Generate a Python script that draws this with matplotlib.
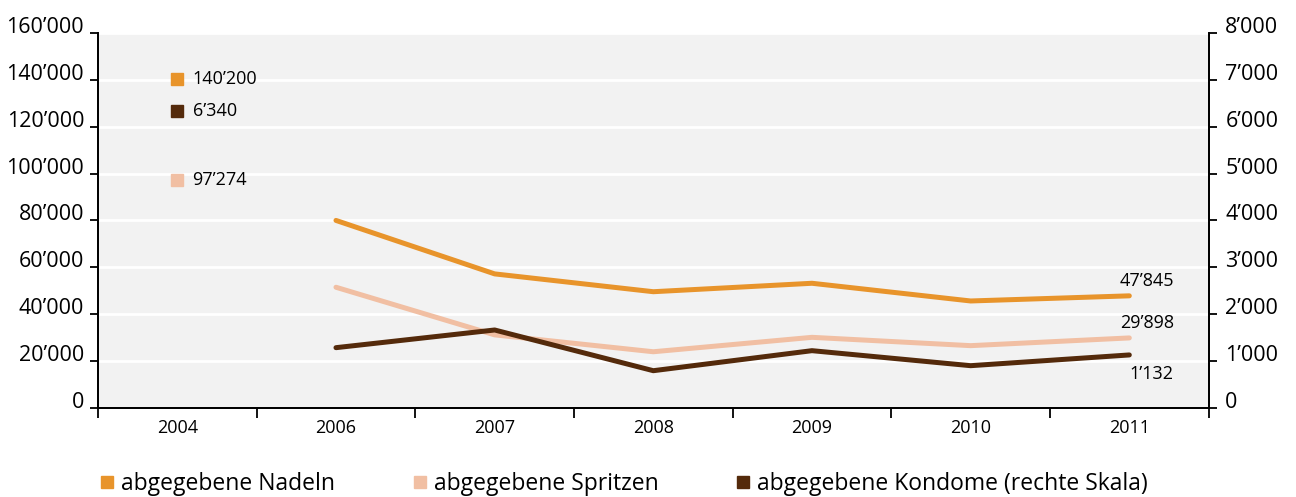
import matplotlib
matplotlib.use('Agg')
import matplotlib.pyplot as plt
import matplotlib.ticker as mtick
from matplotlib.lines import Line2D

plt.rcParams['font.family'] = ['Open Sans', 'DejaVu Sans']

years = ['2004', '2006', '2007', '2008', '2009', '2010', '2011']
# 2004 only as single values (shown as markers with labels)
nadeln_2004 = 140200
spritzen_2004 = 97274
kondome_2004 = 6340
# line values 2006 - 2011
nadeln = [80000, 57200, 49600, 53200, 45650, 47845]
spritzen = [51500, 31200, 24000, 30150, 26600, 29898]
kondome = [1287, 1664, 796, 1223, 903, 1132]

labels = ['abgegebene Nadeln', 'abgegebene Spritzen', 'abgegebene Kondome (rechte Skala)']
c_nadeln = '#E8942B'
c_spritzen = '#F1BFA3'
c_kondome = '#542A0B'


def fmt(v, pos=None):
    return f'{int(v):,}'.replace(',', '\u2019')


fig = plt.figure(figsize=(12.96, 4.97), dpi=100)
ax = fig.add_axes([0.0756, 0.179, 0.857, 0.755])
ax2 = ax.twinx()

ax.set_facecolor('#F2F2F2')
x_line = list(range(1, len(years)))

ax.plot(x_line, nadeln, color=c_nadeln, lw=3.6, solid_capstyle='round', zorder=3)
ax.plot(x_line, spritzen, color=c_spritzen, lw=3.6, solid_capstyle='round', zorder=3)
ax2.plot(x_line, kondome, color=c_kondome, lw=3.6, solid_capstyle='round', zorder=4)

ax.plot([0], [nadeln_2004], 's', color=c_nadeln, ms=8)
ax.plot([0], [spritzen_2004], 's', color=c_spritzen, ms=8)
ax2.plot([0], [kondome_2004], 's', color=c_kondome, ms=8)
ax.annotate(fmt(nadeln_2004), (0, nadeln_2004), xytext=(11, 0), textcoords='offset points',
            va='center', fontsize=13)
ax.annotate(fmt(spritzen_2004), (0, spritzen_2004), xytext=(11, 0), textcoords='offset points',
            va='center', fontsize=13)
ax2.annotate(fmt(kondome_2004), (0, kondome_2004), xytext=(11, 0), textcoords='offset points',
             va='center', fontsize=13)

# end labels for 2011
ax.annotate(fmt(nadeln[-1]), (x_line[-1], nadeln[-1]), xytext=(32, 4), textcoords='offset points',
            ha='right', va='bottom', fontsize=13)
ax.annotate(fmt(spritzen[-1]), (x_line[-1], spritzen[-1]), xytext=(32, 4), textcoords='offset points',
            ha='right', va='bottom', fontsize=13)
ax2.annotate(fmt(kondome[-1]), (x_line[-1], kondome[-1]), xytext=(32, -7), textcoords='offset points',
             ha='right', va='top', fontsize=13)

ax.set_xlim(-0.5, len(years) - 0.5)
ax.set_ylim(0, 160000)
ax2.set_ylim(0, 8000)
ax.set_yticks(range(0, 160001, 20000))
ax2.set_yticks(range(0, 8001, 1000))
ax.yaxis.set_major_formatter(mtick.FuncFormatter(fmt))
ax2.yaxis.set_major_formatter(mtick.FuncFormatter(fmt))

ax.set_xticks([i - 0.5 for i in range(len(years) + 1)])
ax.set_xticklabels([])
ax.set_xticks(range(len(years)), minor=True)
ax.set_xticklabels(years, minor=True, fontsize=13)
ax.tick_params(axis='x', which='major', direction='out', length=7, width=1.3)
ax.tick_params(axis='x', which='minor', length=0, pad=8)

ax.grid(axis='y', color='white', lw=2)
ax.set_axisbelow(True)

ax.tick_params(axis='y', direction='out', length=6, width=1.3, labelsize=15.5, pad=4)
ax2.tick_params(axis='y', direction='out', length=6, width=1.3, labelsize=15.5, pad=6)
for t in ax.get_yticklabels() + ax2.get_yticklabels():
    t.set_verticalalignment('baseline')

for a in (ax, ax2):
    a.spines['top'].set_visible(False)
    for s in ('left', 'right', 'bottom'):
        a.spines[s].set_linewidth(1.3)

handles = [Line2D([], [], marker='s', ls='', color=c, ms=8)
           for c in (c_nadeln, c_spritzen, c_kondome)]
fig.legend(handles, labels, loc='lower left', bbox_to_anchor=(0.058, -0.04), ncol=3,
           frameon=False, fontsize=16.5, handletextpad=0.1, columnspacing=3.2,
           handlelength=1.0)

fig.savefig('out.png', dpi=100)
